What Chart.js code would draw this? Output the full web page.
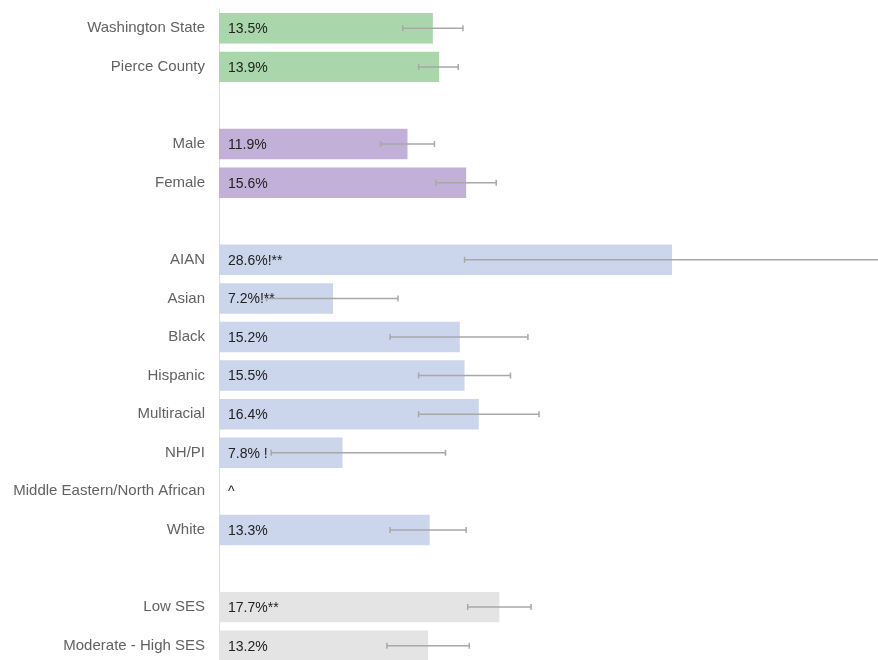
<!DOCTYPE html>
<html>
<head>
<meta charset="utf-8">
<script src="https://cdn.jsdelivr.net/npm/chart.js@4/dist/chart.umd.min.js"></script>
<style>
  html, body { margin: 0; padding: 0; background: #fff; overflow: hidden; }
  #wrap { position: relative; width: 878px; height: 665px; }
</style>
</head>
<body>
<div id="wrap"><canvas id="chart"></canvas></div>
<script>
// ── DATOS ──
const categorias = ['Washington State', 'Pierce County', '', 'Male', 'Female', '',
  'AIAN', 'Asian', 'Black', 'Hispanic', 'Multiracial', 'NH/PI',
  'Middle Eastern/North African', 'White', '', 'Low SES', 'Moderate - High SES'];
const valores   = [13.5, 13.9, null, 11.9, 15.6, null, 28.6, 7.2, 15.2, 15.5, 16.4, 7.8, null, 13.3, null, 17.7, 13.2];
const inferior  = [11.6, 12.6, null, 10.2, 13.7, null, 15.5, 3.0, 10.8, 12.6, 12.6, 3.3, null, 10.8, null, 15.7, 10.6];
const superior  = [15.4, 15.1, null, 13.6, 17.5, null, 45.0, 11.3, 19.5, 18.4, 20.2, 14.3, null, 15.6, null, 19.7, 15.8];
const etiquetas = ['13.5%', '13.9%', '', '11.9%', '15.6%', '', '28.6%!**', '7.2%!**', '15.2%', '15.5%', '16.4%',
  '7.8% !', '^', '13.3%', '', '17.7%**', '13.2%'];
const grupos    = ['estado', 'estado', '', 'sexo', 'sexo', '', 'raza', 'raza', 'raza', 'raza', 'raza', 'raza',
  'raza', 'raza', '', 'ses', 'ses'];

// ── ESTILOS ──
const coloresGrupo = { estado: '#a9d6aa', sexo: '#c3b0d8', raza: '#cbd5ec', ses: '#e4e4e4', '': 'rgba(0,0,0,0)' };
const FUENTE = "'Liberation Sans', Arial, sans-serif";

// Barras de error y etiquetas, dibujadas con las escalas de la gráfica
const pluginErrores = {
  id: 'errores',
  afterDatasetsDraw(chart) {
    const { ctx, scales: { x, y } } = chart;
    ctx.save();
    ctx.strokeStyle = '#a8a8a8';
    ctx.lineWidth = 1.5;
    inferior.forEach((lo, i) => {
      if (lo == null) return;
      const yc = y.getPixelForValue(i);
      const x1 = x.getPixelForValue(lo);
      const x2 = x.getPixelForValue(superior[i]);
      ctx.beginPath();
      ctx.moveTo(x1, yc); ctx.lineTo(x2, yc);
      ctx.moveTo(x1, yc - 3); ctx.lineTo(x1, yc + 3);
      ctx.moveTo(x2, yc - 3); ctx.lineTo(x2, yc + 3);
      ctx.stroke();
    });
    // Etiquetas de valor dentro de la barra
    ctx.fillStyle = '#222';
    ctx.font = '14px ' + FUENTE;
    ctx.textBaseline = 'middle';
    ctx.textAlign = 'left';
    const x0 = x.getPixelForValue(0);
    etiquetas.forEach((t, i) => {
      if (!t) return;
      ctx.fillText(t, x0 + 9, y.getPixelForValue(i) + 1);
    });
    ctx.restore();
  }
};

new Chart(document.getElementById('chart'), {
  type: 'bar',
  data: {
    labels: categorias,
    datasets: [{
      data: valores,
      backgroundColor: grupos.map(g => coloresGrupo[g]),
      borderWidth: 0,
      barPercentage: 0.79,
      categoryPercentage: 1,
    }]
  },
  options: {
    indexAxis: 'y',
    responsive: true,
    maintainAspectRatio: false,
    animation: false,
    layout: { padding: { top: 9, bottom: 0, left: 0, right: 0 } },
    plugins: { legend: { display: false }, tooltip: { enabled: false } },
    scales: {
      x: { display: false, min: 0, max: 41.6 },
      y: {
        grid: { display: false },
        border: { display: true, color: '#dcdcdc', width: 1 },
        ticks: { color: '#626262', padding: 6, font: { family: FUENTE, size: 15 } },
        afterFit(scale) {
          scale.width = 219;
          scale.paddingTop = 0;
          scale.paddingBottom = 0;
        }
      }
    }
  },
  plugins: [pluginErrores]
});
</script>
</body>
</html>
